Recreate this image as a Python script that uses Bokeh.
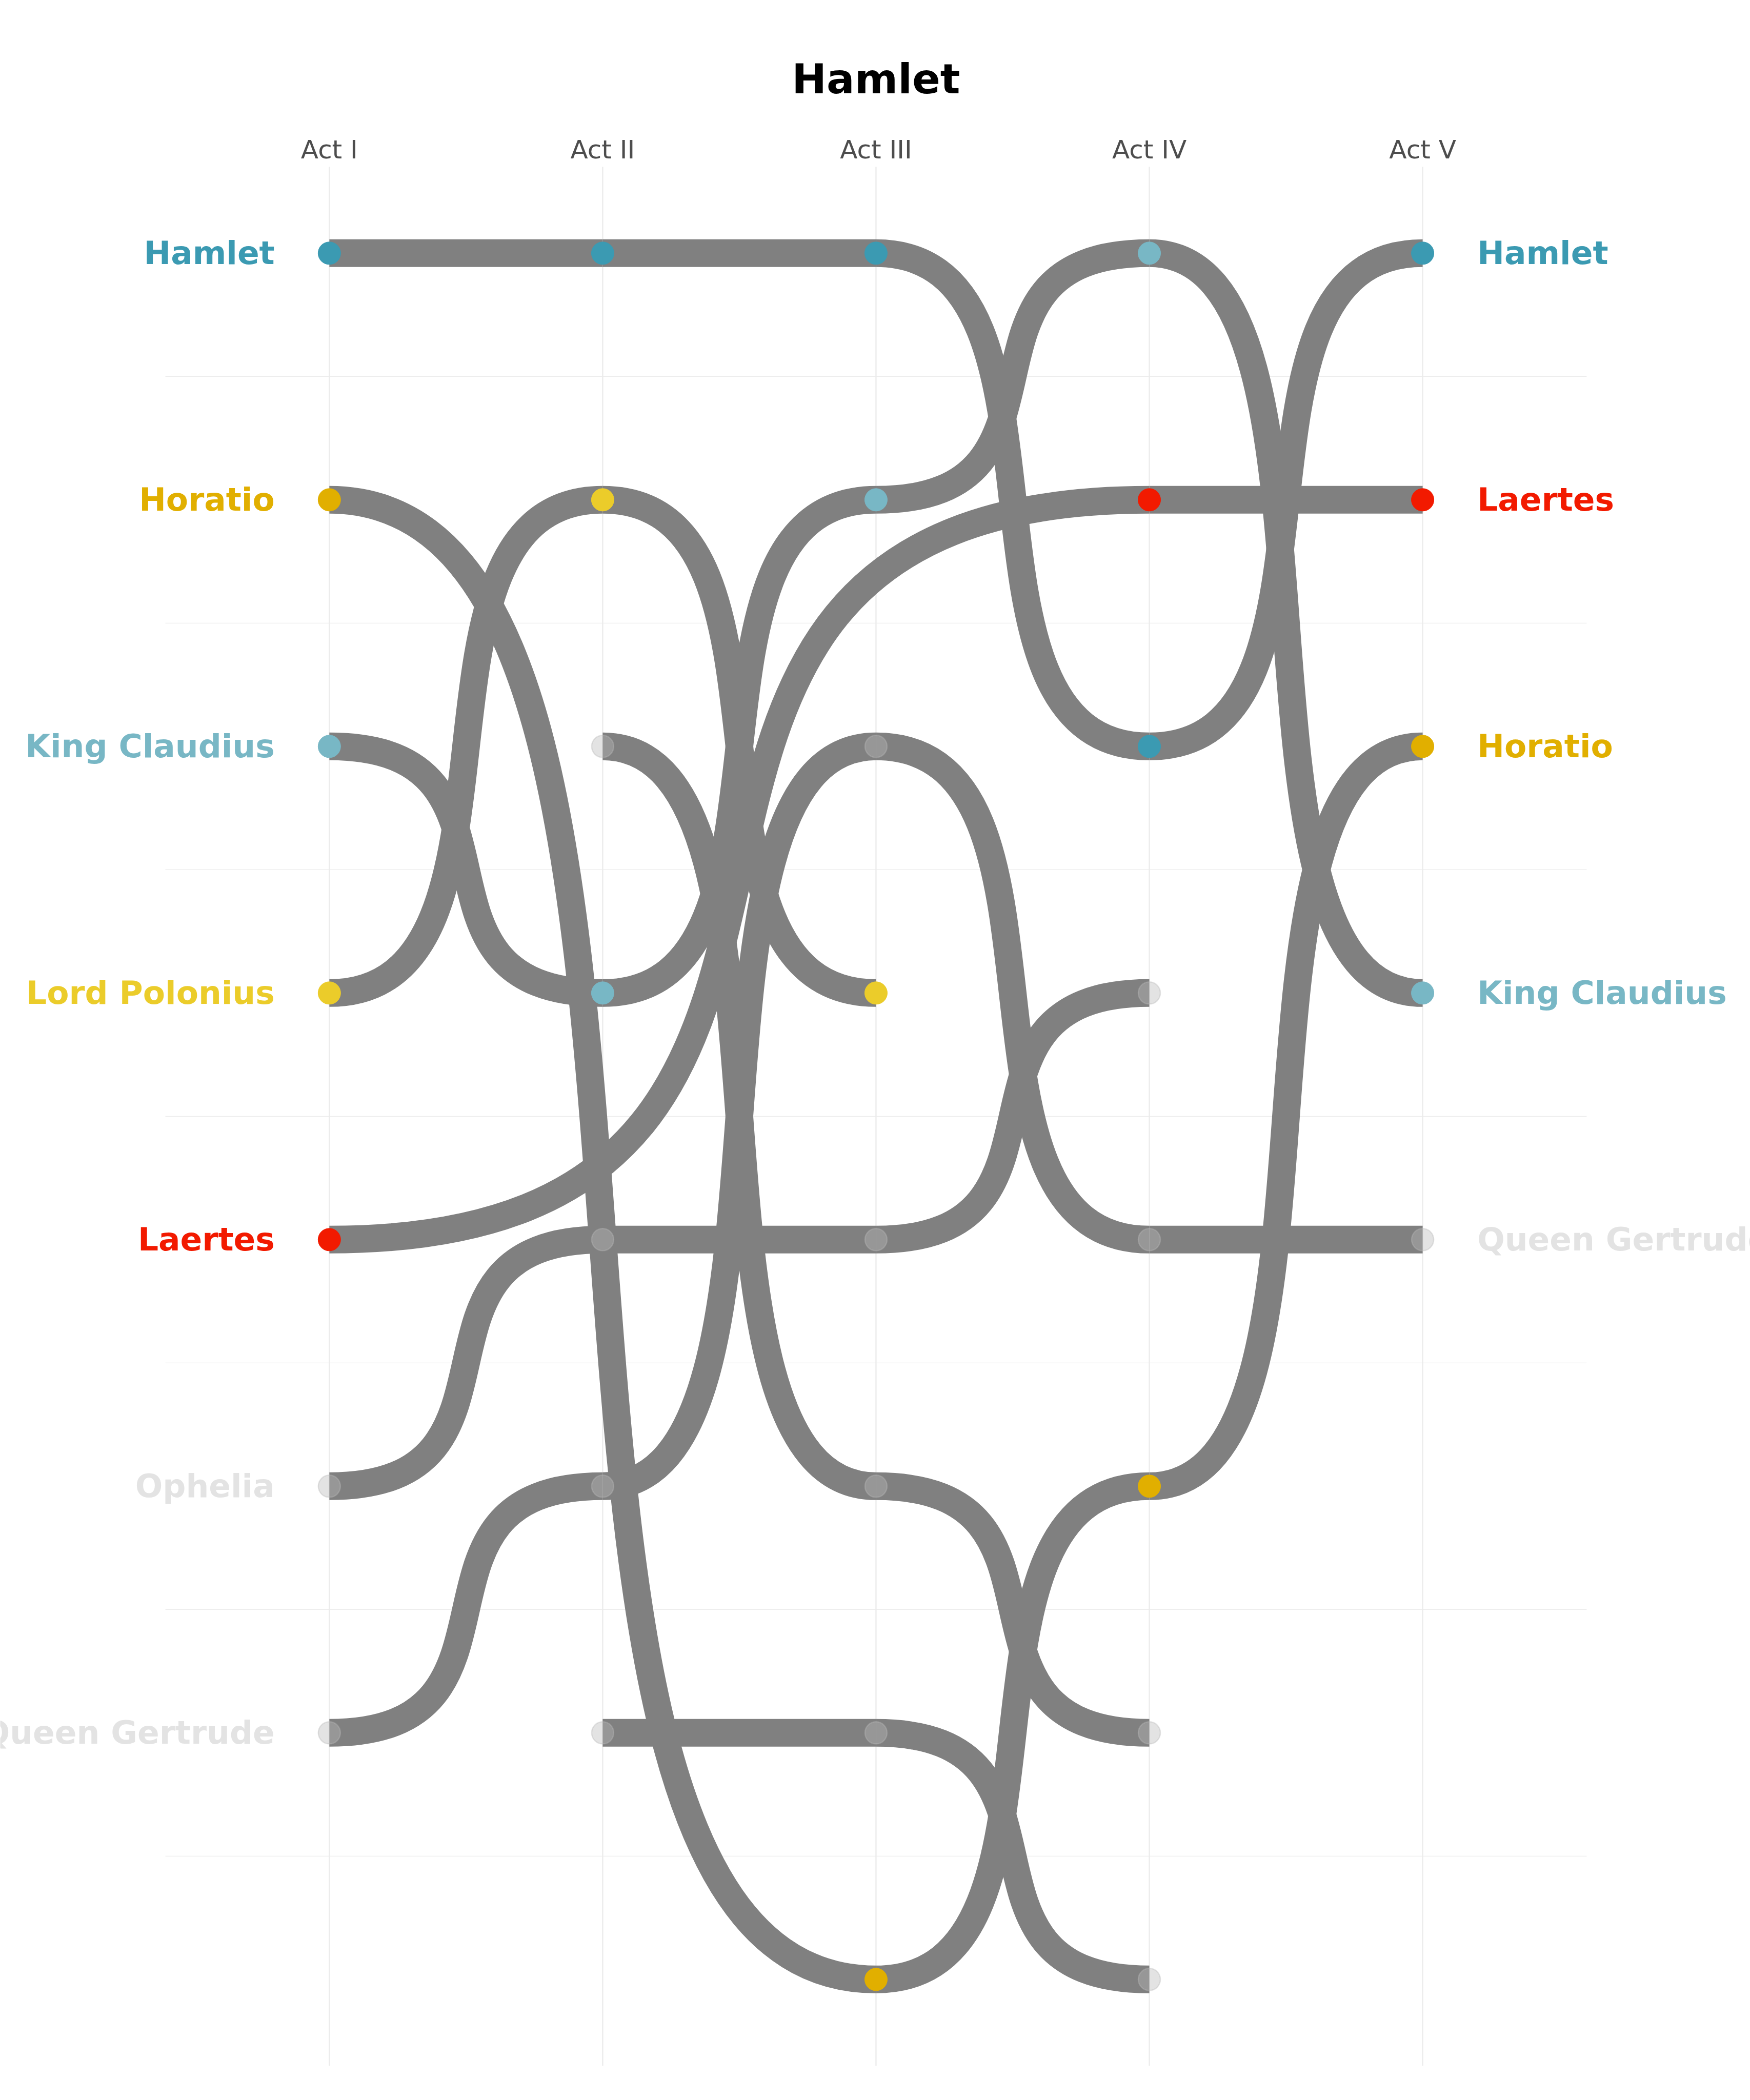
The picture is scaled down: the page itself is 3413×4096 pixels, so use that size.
from bokeh.plotting import figure
from bokeh.models import Range1d, ColumnDataSource
from bokeh.core.properties import value
from bokeh.embed import file_html
from bokeh.resources import INLINE

# ---------------- data ----------------
acts = ["Act I", "Act II", "Act III", "Act IV", "Act V"]
characters = ["Hamlet", "Horatio", "King Claudius", "Lord Polonius", "Laertes",
              "Ophelia", "Queen Gertrude", "Rosencrantz", "Guildenstern"]
# rank of each character in each act (None = absent)
hamlet = [1, 1, 1, 3, 1]
horatio = [2, None, 8, 6, 3]
king_claudius = [3, 4, 2, 1, 4]
lord_polonius = [4, 2, 4, None, None]
laertes = [5, None, None, 2, 2]
ophelia = [6, 5, 5, 4, None]
queen_gertrude = [7, 6, 3, 5, 5]
rosencrantz = [None, 3, 6, 7, None]
guildenstern = [None, 7, 7, 8, None]
ranks = [hamlet, horatio, king_claudius, lord_polonius, laertes,
         ophelia, queen_gertrude, rosencrantz, guildenstern]

highlight = {"Hamlet": "#3B9AB2", "Horatio": "#E1AF00", "King Claudius": "#78B7C5",
             "Lord Polonius": "#EBCC2A", "Laertes": "#F21A00"}
OTHER = "#BABABA"
OTHER_TEXT = "#E3E3E3"
LINE = "#808080"
GRID = "#EBEBEB"
FONT = "DejaVu Sans"

act_x = [i + 1 for i in range(len(acts))]
n_rank = max(r for rr in ranks for r in rr if r is not None)

# ---------------- layout (pixels) ----------------
W, H = 3413, 4096
PANEL_L, PANEL_T = 322, 325          # panel top-left corner in pixels
PX_X, PX_Y = 533.06, 481.0           # pixels per data unit
x_lo, x_hi = 0.4, len(acts) + 0.6    # panel data extent
y_lo, y_hi = 0.65, n_rank + 0.35

vx0 = x_lo - PANEL_L / PX_X
vy0 = y_lo - PANEL_T / PX_Y
p = figure(width=W, height=H,
           x_range=Range1d(vx0, vx0 + W / PX_X),
           y_range=Range1d(vy0 + H / PX_Y, vy0),
           x_axis_location=None, y_axis_location=None,
           toolbar_location=None, output_backend="svg",
           min_border=0, min_border_left=0, min_border_right=0,
           min_border_top=0, min_border_bottom=0,
           outline_line_color=None, background_fill_color="white",
           border_fill_color="white", title=None)
p.grid.visible = False

# ---------------- grid ----------------
p.segment(x0=act_x, y0=[y_lo] * len(act_x), x1=act_x, y1=[y_hi] * len(act_x),
          line_color=GRID, line_width=2.3)
hg = [r + 0.5 for r in range(1, n_rank)]
p.segment(x0=[x_lo] * len(hg), y0=hg, x1=[x_hi] * len(hg), y1=hg,
          line_color=GRID, line_width=1.2)

# ---------------- bump lines (bezier) ----------------
K = 0.8
seg = dict(x0=[], y0=[], x1=[], y1=[], cx0=[], cy0=[], cx1=[], cy1=[])
for name, rr in zip(characters, ranks):
    pts = [(act_x[i], r) for i, r in enumerate(rr) if r is not None]
    for (xa, ya), (xb, yb) in zip(pts[:-1], pts[1:]):
        dx = xb - xa
        seg["x0"].append(xa); seg["y0"].append(ya)
        seg["x1"].append(xb); seg["y1"].append(yb)
        seg["cx0"].append(xa + K * dx); seg["cy0"].append(ya)
        seg["cx1"].append(xb - K * dx); seg["cy1"].append(yb)
p.bezier(x0="x0", y0="y0", x1="x1", y1="y1", cx0="cx0", cy0="cy0", cx1="cx1", cy1="cy1",
         source=ColumnDataSource(seg), line_color=LINE, line_width=54, line_cap="butt")

# ---------------- points ----------------
hx, hy, hc, ox, oy = [], [], [], [], []
for name, rr in zip(characters, ranks):
    for i, r in enumerate(rr):
        if r is None:
            continue
        if name in highlight:
            hx.append(act_x[i]); hy.append(r); hc.append(highlight[name])
        else:
            ox.append(act_x[i]); oy.append(r)
p.scatter(ox, oy, size=43, fill_color=OTHER, line_color=OTHER,
          fill_alpha=0.4, line_alpha=0.4, line_width=2.5)
p.scatter(hx, hy, size=44, fill_color=hc, line_color=hc, line_width=1)

# ---------------- character labels ----------------
def label_data(act_index, dx):
    names, xs, ys, cols = [], [], [], []
    for name, rr in zip(characters, ranks):
        r = rr[act_index]
        if r is None:
            continue
        names.append(name); ys.append(r); xs.append(act_x[act_index] + dx)
        cols.append(highlight.get(name, OTHER_TEXT))
    return dict(name=names, x=xs, y=ys, color=cols)

for data, align in ((label_data(0, -0.2), "right"), (label_data(len(acts) - 1, 0.2), "left")):
    p.text(x="x", y="y", text="name", source=ColumnDataSource(data), text_color="color",
           text_align=align, text_baseline="middle",
           text_font=value(FONT), text_font_style="bold", text_font_size="63px")

# ---------------- act labels (top) ----------------
p.text(x=act_x, y=[y_lo - 34 / PX_Y] * len(act_x), text=acts,
       text_align="center", text_baseline="alphabetic",
       text_font=value(FONT), text_font_size="50px", text_color="#4D4D4D")

# ---------------- title ----------------
p.text(x=[(act_x[0] + act_x[-1]) / 2], y=[vy0 + 153 / PX_Y], text=["Hamlet"],
       text_align="center", text_baseline="alphabetic",
       text_font=value(FONT), text_font_style="bold", text_font_size="81px",
       text_color="black")

open("out.html", "w").write(file_html(p, INLINE))
